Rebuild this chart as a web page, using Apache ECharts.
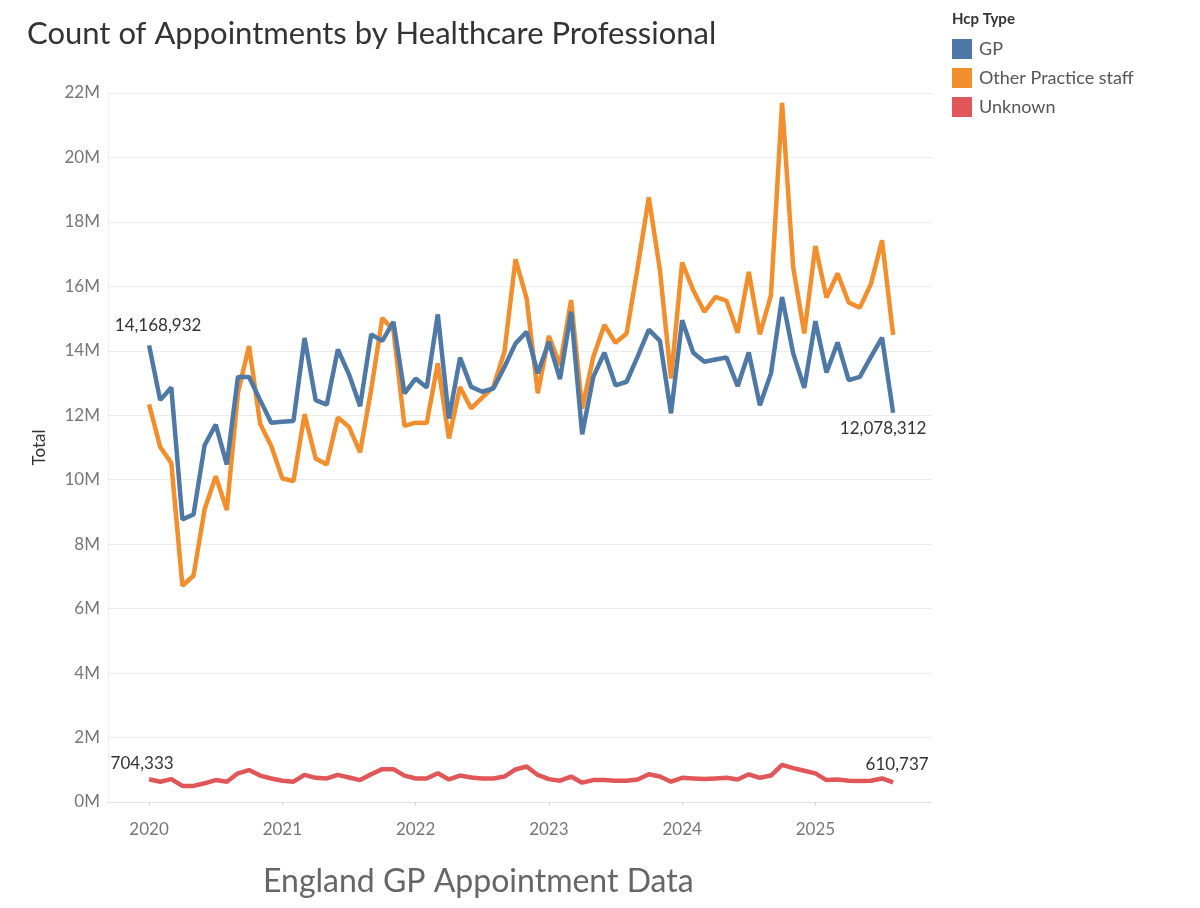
<!DOCTYPE html>
<html>
<head>
<meta charset="utf-8">
<script src="https://cdn.jsdelivr.net/npm/echarts@6/dist/echarts.min.js"></script>
<style>
html,body{margin:0;padding:0;background:#fff;}
#c{width:1200px;height:908px;}
</style>
</head>
<body>
<div id="c"></div>
<script>
// Months Jan 2020 .. Aug 2025
const months = [
 "2020-01","2020-02","2020-03","2020-04","2020-05","2020-06","2020-07","2020-08","2020-09","2020-10","2020-11","2020-12",
 "2021-01","2021-02","2021-03","2021-04","2021-05","2021-06","2021-07","2021-08","2021-09","2021-10","2021-11","2021-12",
 "2022-01","2022-02","2022-03","2022-04","2022-05","2022-06","2022-07","2022-08","2022-09","2022-10","2022-11","2022-12",
 "2023-01","2023-02","2023-03","2023-04","2023-05","2023-06","2023-07","2023-08","2023-09","2023-10","2023-11","2023-12",
 "2024-01","2024-02","2024-03","2024-04","2024-05","2024-06","2024-07","2024-08","2024-09","2024-10","2024-11","2024-12",
 "2025-01","2025-02","2025-03","2025-04","2025-05","2025-06","2025-07","2025-08"
];
const yearTicks = ["2020","2021","2022","2023","2024","2025"];
const yTickLabels = ["0M","2M","4M","6M","8M","10M","12M","14M","16M","18M","20M","22M"];

// values in millions
const gp = [
 14.168932,12.47,12.86,8.77,8.92,11.07,11.71,10.47,13.19,13.19,12.47,11.77,
 11.80,11.82,14.40,12.47,12.33,14.04,13.27,12.28,14.51,14.31,14.90,12.68,
 13.14,12.86,15.13,11.90,13.79,12.88,12.73,12.83,13.50,14.23,14.59,13.30,
 14.28,13.12,15.21,11.41,13.19,13.94,12.93,13.04,13.83,14.66,14.31,12.06,
 14.95,13.94,13.66,13.73,13.79,12.90,13.95,12.31,13.30,15.67,13.92,12.85,
 14.92,13.33,14.26,13.09,13.19,13.81,14.41,12.078312
];
const otherStaff = [
 12.34,11.02,10.52,6.71,7.02,9.08,10.11,9.06,12.70,14.15,11.74,11.05,
 10.04,9.96,12.03,10.66,10.47,11.93,11.64,10.85,12.80,15.02,14.64,11.67,
 11.77,11.76,13.61,11.28,12.88,12.21,12.55,12.88,13.97,16.84,15.62,12.68,
 14.46,13.55,15.57,12.21,13.81,14.80,14.25,14.54,16.60,18.76,16.50,13.14,
 16.74,15.88,15.21,15.67,15.55,14.56,16.45,14.51,15.73,21.69,16.60,14.54,
 17.25,15.65,16.40,15.50,15.34,16.07,17.43,14.49
];
const unknown = [
 0.704333,0.63,0.71,0.50,0.50,0.58,0.68,0.63,0.89,0.99,0.82,0.73,
 0.66,0.63,0.84,0.75,0.73,0.84,0.76,0.68,0.86,1.02,1.02,0.82,
 0.73,0.73,0.89,0.70,0.82,0.76,0.73,0.73,0.79,1.01,1.10,0.84,
 0.71,0.66,0.79,0.60,0.68,0.68,0.66,0.66,0.70,0.86,0.79,0.63,
 0.75,0.73,0.71,0.73,0.75,0.70,0.86,0.75,0.82,1.15,1.05,0.97,
 0.89,0.68,0.70,0.66,0.65,0.66,0.73,0.610737
];

const FONT = 'Lato, "Noto Sans", sans-serif';
const fmtNum = v => Math.round(v * 1e6).toLocaleString('en-US');

function buildData(arr, labels) {
  return arr.map((v, i) => {
    const item = { value: [i, v * 1e6] };
    if (labels && labels[i]) item.label = Object.assign({
      show: true, formatter: () => fmtNum(v), color: '#333', fontSize: 17, fontFamily: FONT
    }, labels[i]);
    return item;
  });
}
const last = months.length - 1;

const lineBase = {
  type: 'line', symbol: 'circle', symbolSize: 0, showSymbol: true,
  label: { show: false }, emphasis: { disabled: true }
};

const chart = echarts.init(document.getElementById('c'), null, { renderer: 'canvas' });
chart.setOption({
  animation: false,
  backgroundColor: '#fff',
  title: [
    { text: 'Count of Appointments by Healthcare Professional', left: 22, top: 13,
      textStyle: { fontFamily: FONT, fontSize: 31, fontWeight: 'normal', color: '#333' } },
    { text: 'Hcp Type', left: 947, top: 7,
      textStyle: { fontFamily: FONT, fontSize: 15, fontWeight: 'bold', color: '#333' } },
    { text: 'England GP Appointment Data', left: 258, top: 861,
      textStyle: { fontFamily: FONT, fontSize: 32, fontWeight: 'normal', color: '#666' } }
  ],
  legend: {
    orient: 'vertical', left: 947, top: 34, itemWidth: 20, itemHeight: 20, itemGap: 9,
    icon: 'rect',
    textStyle: { fontFamily: FONT, fontSize: 18, color: '#555', padding: [0, 0, 0, 2] },
    data: ['GP', 'Other Practice staff', 'Unknown']
  },
  grid: { left: 108, right: 268, top: 93, bottom: 106, containLabel: false },
  xAxis: {
    type: 'value', min: -3.7, max: 70.5,
    axisLine: { show: true, onZero: false, lineStyle: { color: '#d8d8d8', type: [2, 3], width: 1 } },
    axisTick: { show: true, customValues: [0, 12, 24, 36, 48, 60], length: 4, lineStyle: { color: '#d8d8d8' } },
    splitLine: { show: false },
    axisLabel: {
      customValues: [0, 12, 24, 36, 48, 60],
      formatter: v => yearTicks[Math.round(v / 12)],
      color: '#777', fontSize: 17, fontFamily: FONT, margin: 19
    }
  },
  yAxis: {
    type: 'value', min: 0, max: 22e6, interval: 2e6,
    name: 'Total', nameLocation: 'middle', nameGap: 60, nameRotate: 90,
    nameTextStyle: { fontFamily: FONT, fontSize: 17, color: '#333', fontWeight: 'normal' },
    axisLine: { show: true, onZero: false, lineStyle: { color: '#eeeeee' } },
    axisTick: { show: false },
    splitLine: { lineStyle: { color: '#ececec', width: 1 } },
    axisLabel: {
      formatter: v => yTickLabels[Math.round(v / 2e6)],
      color: '#777', fontSize: 17, fontFamily: FONT, margin: 8
    }
  },
  series: [
    Object.assign({}, lineBase, {
      name: 'Unknown', color: '#e15759', lineStyle: { width: 4.5, color: '#e15759' }, z: 3,
      data: buildData(unknown, { 0: { position: 'top', offset: [-7, -2] }, [last]: { position: 'top', offset: [4, -4] } })
    }),
    Object.assign({}, lineBase, {
      name: 'Other Practice staff', color: '#f28e2b', lineStyle: { width: 4.5, color: '#f28e2b' }, z: 4,
      data: buildData(otherStaff)
    }),
    Object.assign({}, lineBase, {
      name: 'GP', color: '#4e79a7', lineStyle: { width: 4.5, color: '#4e79a7' }, z: 5,
      data: buildData(gp, { 0: { position: 'top', offset: [9, -6] }, [last]: { position: 'bottom', offset: [-10, 2] } })
    })
  ]
});
</script>
</body>
</html>
